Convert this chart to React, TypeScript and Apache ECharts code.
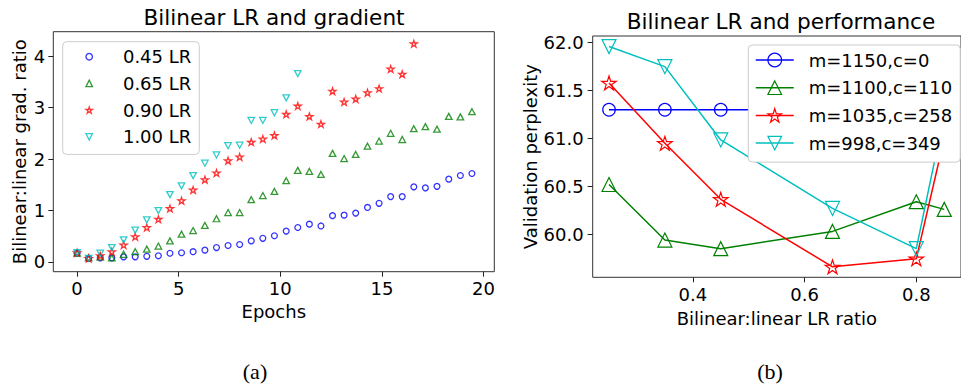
import React, { useEffect, useRef } from 'react';
import * as echarts from 'echarts';

// ---- Left panel: Bilinear:linear gradient ratio vs epochs ----
const epochs = [0, 0.57, 1.14, 1.71, 2.29, 2.86, 3.43, 4.0, 4.57, 5.14, 5.71, 6.29, 6.86, 7.43, 8.0, 8.57, 9.14, 9.71, 10.29, 10.86, 11.43, 12.0, 12.57, 13.14, 13.71, 14.29, 14.86, 15.43, 16.0, 16.57, 17.14, 17.71, 18.29, 18.86, 19.43];
const lr045 = [0.17, 0.07, 0.08, 0.08, 0.10, 0.10, 0.11, 0.12, 0.17, 0.18, 0.20, 0.23, 0.28, 0.32, 0.34, 0.41, 0.46, 0.51, 0.60, 0.67, 0.735, 0.70, 0.90, 0.91, 0.95, 1.06, 1.14, 1.27, 1.27, 1.46, 1.44, 1.47, 1.61, 1.68, 1.72];
const lr065 = [0.17, 0.08, 0.10, 0.08, 0.15, 0.20, 0.25, 0.31, 0.41, 0.54, 0.61, 0.71, 0.84, 0.96, 0.96, 1.21, 1.29, 1.37, 1.58, 1.78, 1.76, 1.70, 2.11, 2.01, 2.09, 2.25, 2.35, 2.50, 2.38, 2.59, 2.63, 2.58, 2.83, 2.82, 2.92];
const lr090 = [0.18, 0.07, 0.12, 0.20, 0.33, 0.49, 0.67, 0.83, 1.04, 1.19, 1.40, 1.60, 1.73, 1.97, 2.04, 2.33, 2.39, 2.46, 2.87, 3.03, 2.83, 2.68, 3.32, 3.11, 3.17, 3.29, 3.37, 3.75, 3.65, 4.24];
const lr100 = [0.18, 0.07, 0.17, 0.28, 0.43, 0.62, 0.82, 1.00, 1.31, 1.48, 1.68, 1.92, 2.08, 2.26, 2.27, 2.75, 2.75, 2.90, 3.19, 3.66];
const leftNames = ['0.45 LR', '0.65 LR', '0.90 LR', '1.00 LR'];
const leftTicksX = [0, 5, 10, 15, 20];
const leftTicksY = [0, 1, 2, 3, 4];

// ---- Right panel: validation perplexity vs LR ratio ----
const ratios = [0.25, 0.35, 0.45, 0.65, 0.8, 0.85];
const m1150 = [61.3, 61.3, 61.3, 61.3, 61.3, 61.3];
const m1100 = [60.52, 59.94, 59.85, 60.03, 60.34, 60.26];
const m1035 = [61.58, 60.95, 60.365, 59.66, 59.745, 61.0];
const m998 = [61.96, 61.75, 60.985, 60.27, 59.85, 61.25];
const rightNames = ['m=1150,c=0', 'm=1100,c=110', 'm=1035,c=258', 'm=998,c=349'];
const rightTicksX = [0.4, 0.6, 0.8];
const rightTicksY = [60, 60.5, 61, 61.5, 62];

const BLUE = '#0000ff';
const GREEN = '#008000';
const RED = '#ff0000';
const CYAN = '#00bfbf';
const NONE = 'rgba(255,255,255,0)';
const FONT = 'DejaVu Sans';
const STAR = 'path://M0,-100 L22.45,-30.9 L95.1,-30.9 L36.33,11.8 L58.78,80.9 L0,38.2 L-58.78,80.9 L-36.33,11.8 L-95.1,-30.9 L-22.45,-30.9 Z';
const TRI_DOWN = 'path://M0,0 L100,0 L50,100 Z';
const TRI_UP = 'path://M50,0 L100,100 L0,100 Z';

const pairs = (xs: number[], ys: number[]) => ys.map((y, i) => [xs[i], y]);

export default function App() {
  const ref = useRef<HTMLDivElement>(null);
  useEffect(() => {
    if (!ref.current) return;
    const chart = echarts.init(ref.current, undefined, { renderer: 'svg' });
    const axisCommon = {
      splitLine: { show: false },
      axisLine: { show: false, onZero: false },
      axisTick: { show: true, length: 5, lineStyle: { color: '#222', width: 1 } },
    };
    const labelStyle = { fontFamily: FONT, fontSize: 18, color: '#000' };
    const nameStyle = { fontFamily: FONT, fontSize: 18, color: '#000' };
    const leftScatter = (name: string, ys: number[], color: string, symbol: string, size: any) => ({
      type: 'scatter', name, xAxisIndex: 0, yAxisIndex: 0,
      data: pairs(epochs, ys), symbol, symbolSize: size, symbolKeepAspect: true,
      itemStyle: { color: NONE, borderColor: color, borderWidth: 1.3 },
      emphasis: { disabled: true },
    });
    const rightLine = (name: string, ys: number[], color: string, symbol: string, size: number) => ({
      type: 'line', name, xAxisIndex: 1, yAxisIndex: 1,
      data: pairs(ratios, ys), symbol, symbolSize: size, symbolKeepAspect: true,
      showAllSymbol: true,
      lineStyle: { color, width: 1.5 },
      itemStyle: { color: NONE, borderColor: color, borderWidth: 1.2 },
      emphasis: { disabled: true },
    });
    chart.setOption({
      animation: false,
      textStyle: { fontFamily: FONT },
      title: [
        { text: 'Bilinear LR and gradient', left: 274, top: 6.5, textAlign: 'center', padding: 0, textStyle: { fontFamily: FONT, fontSize: 21.6, fontWeight: 'normal', color: '#000' } },
        { text: 'Bilinear LR and performance', left: 781, top: 10.5, textAlign: 'center', padding: 0, textStyle: { fontFamily: FONT, fontSize: 21.6, fontWeight: 'normal', color: '#000' } },
        { text: '(a)', left: 255, top: 360.5, textAlign: 'center', padding: 0, textStyle: { fontFamily: 'Liberation Serif', fontSize: 22, fontWeight: 'normal', color: '#000' } },
        { text: '(b)', left: 770, top: 360.5, textAlign: 'center', padding: 0, textStyle: { fontFamily: 'Liberation Serif', fontSize: 22, fontWeight: 'normal', color: '#000' } },
      ],
      grid: [
        { left: 53.3, top: 31.7, width: 441, height: 240, show: true, borderColor: '#333', borderWidth: 1, backgroundColor: 'transparent', containLabel: false },
        { left: 592.7, top: 36, width: 376.3, height: 241.3, show: true, borderColor: '#333', borderWidth: 1, backgroundColor: 'transparent', containLabel: false },
      ],
      xAxis: [
        {
          ...axisCommon, type: 'value', gridIndex: 0, min: -1.17, max: 20.53,
          axisTick: { ...axisCommon.axisTick, customValues: leftTicksX },
          axisLabel: { ...labelStyle, margin: 8, customValues: leftTicksX, formatter: (v: number) => String(v) },
          name: 'Epochs', nameLocation: 'middle', nameGap: 30, nameTextStyle: nameStyle,
        },
        {
          ...axisCommon, type: 'value', gridIndex: 1, min: 0.2208, max: 0.88,
          axisTick: { ...axisCommon.axisTick, customValues: rightTicksX },
          axisLabel: { ...labelStyle, margin: 8, customValues: rightTicksX, formatter: (v: number) => v.toFixed(1) },
          name: 'Bilinear:linear LR ratio', nameLocation: 'middle', nameGap: 32, nameTextStyle: nameStyle,
        },
      ],
      yAxis: [
        {
          ...axisCommon, type: 'value', gridIndex: 0, min: -0.189, max: 4.475,
          axisTick: { ...axisCommon.axisTick, customValues: leftTicksY },
          axisLabel: { ...labelStyle, margin: 8, customValues: leftTicksY, formatter: (v: number) => String(v) },
          name: 'Bilinear:linear grad. ratio', nameLocation: 'middle', nameGap: 25, nameTextStyle: nameStyle,
        },
        {
          ...axisCommon, type: 'value', gridIndex: 1, min: 59.551, max: 62.07,
          axisTick: { ...axisCommon.axisTick, customValues: rightTicksY },
          axisLabel: { ...labelStyle, margin: 9, customValues: rightTicksY, formatter: (v: number) => v.toFixed(1) },
          name: 'Validation perplexity', nameLocation: 'middle', nameGap: 53, nameTextStyle: nameStyle,
        },
      ],
      legend: [
        {
          data: leftNames, orient: 'vertical', left: 62.7, top: 41.7,
          padding: [6, 8, 8.6, 22.6], itemWidth: 6.5, itemHeight: 6.5, itemGap: 8.7,
          textStyle: { fontFamily: FONT, fontSize: 18, color: '#000', padding: [0, 0, 0, 25.5] },
          backgroundColor: '#fff', borderColor: '#cccccc', borderWidth: 1, borderRadius: 4,
          itemStyle: { borderWidth: 1.3 }, selectedMode: false,
        },
        {
          data: rightNames, orient: 'vertical', left: 748.3, top: 45,
          padding: [6, 8, 10, 6.7], itemWidth: 38, itemHeight: 17, itemGap: 9.7,
          textStyle: { fontFamily: FONT, fontSize: 18, color: '#000', padding: [0, 0, 0, 10] },
          backgroundColor: '#fff', borderColor: '#cccccc', borderWidth: 1, borderRadius: 4,
          itemStyle: { borderWidth: 1.2 }, lineStyle: { width: 1.5 }, selectedMode: false,
        },
      ],
      series: [
        leftScatter(leftNames[0], lr045, BLUE, 'circle', 5.8),
        leftScatter(leftNames[1], lr065, GREEN, TRI_UP, [6.5, 6]),
        leftScatter(leftNames[2], lr090, RED, STAR, 7),
        leftScatter(leftNames[3], lr100, CYAN, TRI_DOWN, [6.5, 6]),
        rightLine(rightNames[0], m1150, BLUE, 'circle', 12.5),
        rightLine(rightNames[1], m1100, GREEN, TRI_UP, 14),
        rightLine(rightNames[2], m1035, RED, STAR, 14.5),
        rightLine(rightNames[3], m998, CYAN, TRI_DOWN, 14),
      ],
    });
    return () => chart.dispose();
  }, []);
  return (
    <div ref={ref} style={{ position: 'absolute', left: 0, top: 0, width: 961, height: 385, background: '#fff', overflow: 'hidden' }} />
  );
}
